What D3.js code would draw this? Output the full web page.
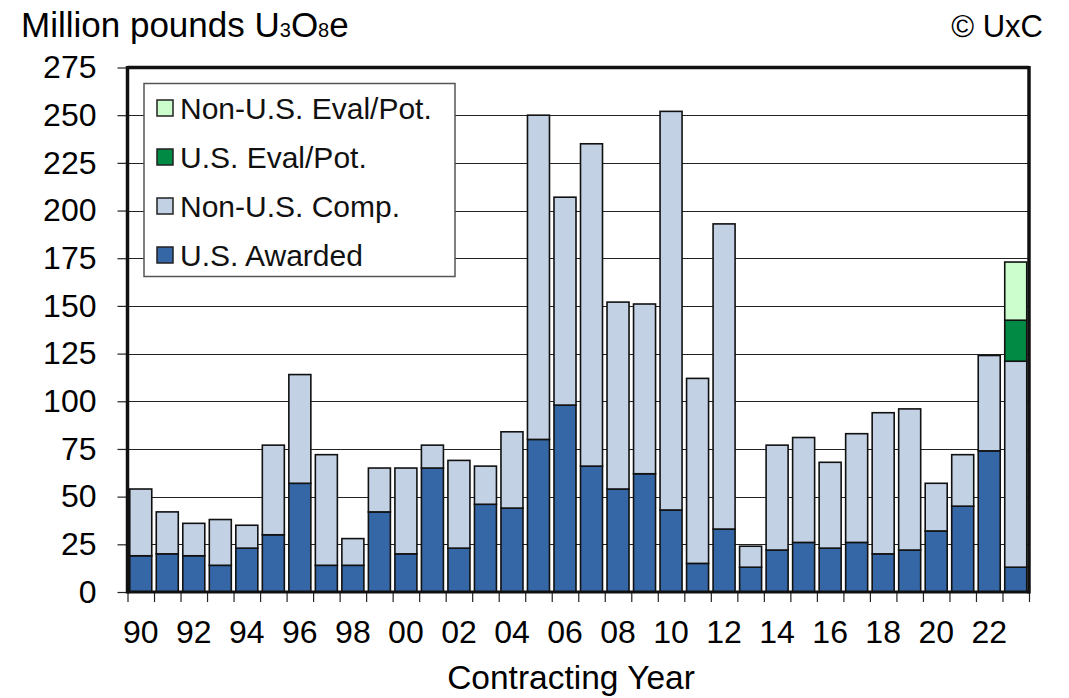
<!DOCTYPE html>
<html>
<head>
<meta charset="utf-8">
<script src="https://cdn.jsdelivr.net/npm/d3@7"></script>
<style>
  html, body { margin: 0; padding: 0; background: #fff; }
  svg { display: block; font-family: "Liberation Sans", Arial, sans-serif; }
</style>
</head>
<body>
<svg id="chart" width="1069" height="698"></svg>
<script>
// Uranium contracting volumes by year (million lb U3O8e)
const years = d3.range(1990, 2024);
const usAwarded = [19, 20, 19, 14, 23, 30, 57, 14, 14, 42, 20, 65, 23, 46, 44, 80, 98, 66, 54, 62, 43, 15, 33, 13, 22, 26, 23, 26, 20, 22, 32, 45, 74, 13];
const nonUsComp = [35, 22, 17, 24, 12, 47, 57, 58, 14, 23, 45, 12, 46, 20, 40, 170, 109, 169, 98, 89, 209, 97, 160, 11, 55, 55, 45, 57, 74, 74, 25, 27, 50, 108];
const usEval    = [0, 0, 0, 0, 0, 0, 0, 0, 0, 0, 0, 0, 0, 0, 0, 0, 0, 0, 0, 0, 0, 0, 0, 0, 0, 0, 0, 0, 0, 0, 0, 0, 0, 21.5];
const nonUsEval = [0, 0, 0, 0, 0, 0, 0, 0, 0, 0, 0, 0, 0, 0, 0, 0, 0, 0, 0, 0, 0, 0, 0, 0, 0, 0, 0, 0, 0, 0, 0, 0, 0, 30.5];
const yTicks = d3.range(0, 276, 25);

const seriesKeys = ["usAwarded", "nonUsComp", "usEval", "nonUsEval"];
const seriesLabels = {
  usAwarded: "U.S. Awarded",
  nonUsComp: "Non-U.S. Comp.",
  usEval: "U.S. Eval/Pot.",
  nonUsEval: "Non-U.S. Eval/Pot."
};
const seriesColors = {
  usAwarded: "#3566a5",
  nonUsComp: "#c2d1e4",
  usEval: "#008a44",
  nonUsEval: "#ccfdcc"
};

const rows = years.map((yr, i) => ({
  year: yr,
  usAwarded: usAwarded[i],
  nonUsComp: nonUsComp[i],
  usEval: usEval[i],
  nonUsEval: nonUsEval[i]
}));

const svg = d3.select("#chart");
const plotLeft = 127.5, plotRight = 1029, plotTop = 67.5, plotBottom = 592;

const x = d3.scaleBand().domain(years).range([plotLeft, plotRight]).paddingInner(0.17).paddingOuter(0.085);
const xEdge = d3.scaleLinear().domain([0, years.length]).range([plotLeft, plotRight]);
const y = d3.scaleLinear().domain([0, 275]).range([plotBottom, plotTop]);

// horizontal gridlines
svg.append("g")
  .selectAll("line")
  .data(yTicks.filter(t => t > 0 && t < 275))
  .join("line")
  .attr("x1", plotLeft).attr("x2", plotRight)
  .attr("y1", d => Math.round(y(d)) + 0.5).attr("y2", d => Math.round(y(d)) + 0.5)
  .attr("stroke", "#222").attr("stroke-width", 1.2);

// stacked bars
const stacked = d3.stack().keys(seriesKeys)(rows);
svg.append("g")
  .selectAll("g")
  .data(stacked)
  .join("g")
  .attr("fill", d => seriesColors[d.key])
  .selectAll("rect")
  .data(d => d.filter(s => s[1] - s[0] > 0))
  .join("rect")
  .attr("x", d => x(d.data.year))
  .attr("width", x.bandwidth())
  .attr("y", d => y(d[1]))
  .attr("height", d => y(d[0]) - y(d[1]))
  .attr("stroke", "#111")
  .attr("stroke-width", 1.6);

// y axis
const yAxis = svg.append("g")
  .attr("transform", `translate(${plotLeft},0)`)
  .call(d3.axisLeft(y).tickValues(yTicks).tickSize(10).tickPadding(21));
yAxis.select(".domain").remove();
yAxis.selectAll(".tick line").attr("stroke", "#222").attr("stroke-width", 1.2);
yAxis.selectAll(".tick text").attr("font-size", 32).attr("fill", "#000")
  .attr("font-family", "'Liberation Sans', Arial, sans-serif");

// x axis: boundary ticks
const xTickAxis = svg.append("g")
  .attr("transform", `translate(0,${plotBottom})`)
  .call(d3.axisBottom(xEdge).tickValues(d3.range(years.length + 1)).tickSize(10).tickFormat(""));
xTickAxis.select(".domain").remove();
xTickAxis.selectAll(".tick line").attr("stroke", "#222").attr("stroke-width", 1.2);

// x axis: year labels on even years
const xLab = svg.append("g")
  .attr("transform", `translate(0,${plotBottom})`)
  .call(d3.axisBottom(x).tickValues(years.filter(v => v % 2 === 0)).tickSize(0).tickPadding(28)
    .tickFormat(v => String(v % 100).padStart(2, "0")));
xLab.select(".domain").remove();
xLab.selectAll(".tick text").attr("font-size", 32).attr("fill", "#000")
  .attr("font-family", "'Liberation Sans', Arial, sans-serif");

// plot frame
const frame = svg.append("g").attr("fill", "none").attr("stroke", "#111");
frame.append("line").attr("x1", plotLeft).attr("x2", plotLeft).attr("y1", plotTop - 1.5).attr("y2", plotBottom + 1.5).attr("stroke-width", 3.5);
frame.append("line").attr("x1", plotLeft).attr("x2", plotRight).attr("y1", plotTop).attr("y2", plotTop).attr("stroke-width", 3.5);
frame.append("line").attr("x1", plotRight).attr("x2", plotRight).attr("y1", plotTop - 1.5).attr("y2", plotBottom + 1.5).attr("stroke-width", 3.5);
frame.append("line").attr("x1", plotLeft).attr("x2", plotRight).attr("y1", plotBottom).attr("y2", plotBottom).attr("stroke-width", 3);

// legend
const legend = svg.append("g").attr("transform", "translate(144,83.5)");
legend.append("rect")
  .attr("width", 311).attr("height", 193)
  .attr("fill", "#fff").attr("stroke", "#555").attr("stroke-width", 1.5);
const legendKeys = seriesKeys.slice().reverse();
const legendItems = legend.selectAll("g.item")
  .data(legendKeys)
  .join("g")
  .attr("class", "item")
  .attr("transform", (d, i) => `translate(13,${24.5 + i * 49})`);
legendItems.append("rect")
  .attr("x", 0).attr("y", -8).attr("width", 16).attr("height", 16)
  .attr("fill", d => seriesColors[d]).attr("stroke", "#222").attr("stroke-width", 1.5);
legendItems.append("text")
  .attr("x", 23).attr("dy", "0.35em")
  .attr("font-size", 30).attr("fill", "#111")
  .text(d => seriesLabels[d]);

// titles
const title = svg.append("text").attr("x", 21).attr("y", 37).attr("font-size", 35).attr("fill", "#000");
title.append("tspan").text("Million pounds U");
title.append("tspan").attr("font-size", 20).text("3");
title.append("tspan").text("O");
title.append("tspan").attr("font-size", 20).text("8");
title.append("tspan").text("e");

svg.append("text").attr("x", 1043).attr("y", 37).attr("text-anchor", "end")
  .attr("font-size", 31).attr("fill", "#000").text("© UxC");

svg.append("text").attr("x", 571).attr("y", 689).attr("text-anchor", "middle")
  .attr("font-size", 33.5).attr("fill", "#000").text("Contracting Year");
</script>
</body>
</html>
